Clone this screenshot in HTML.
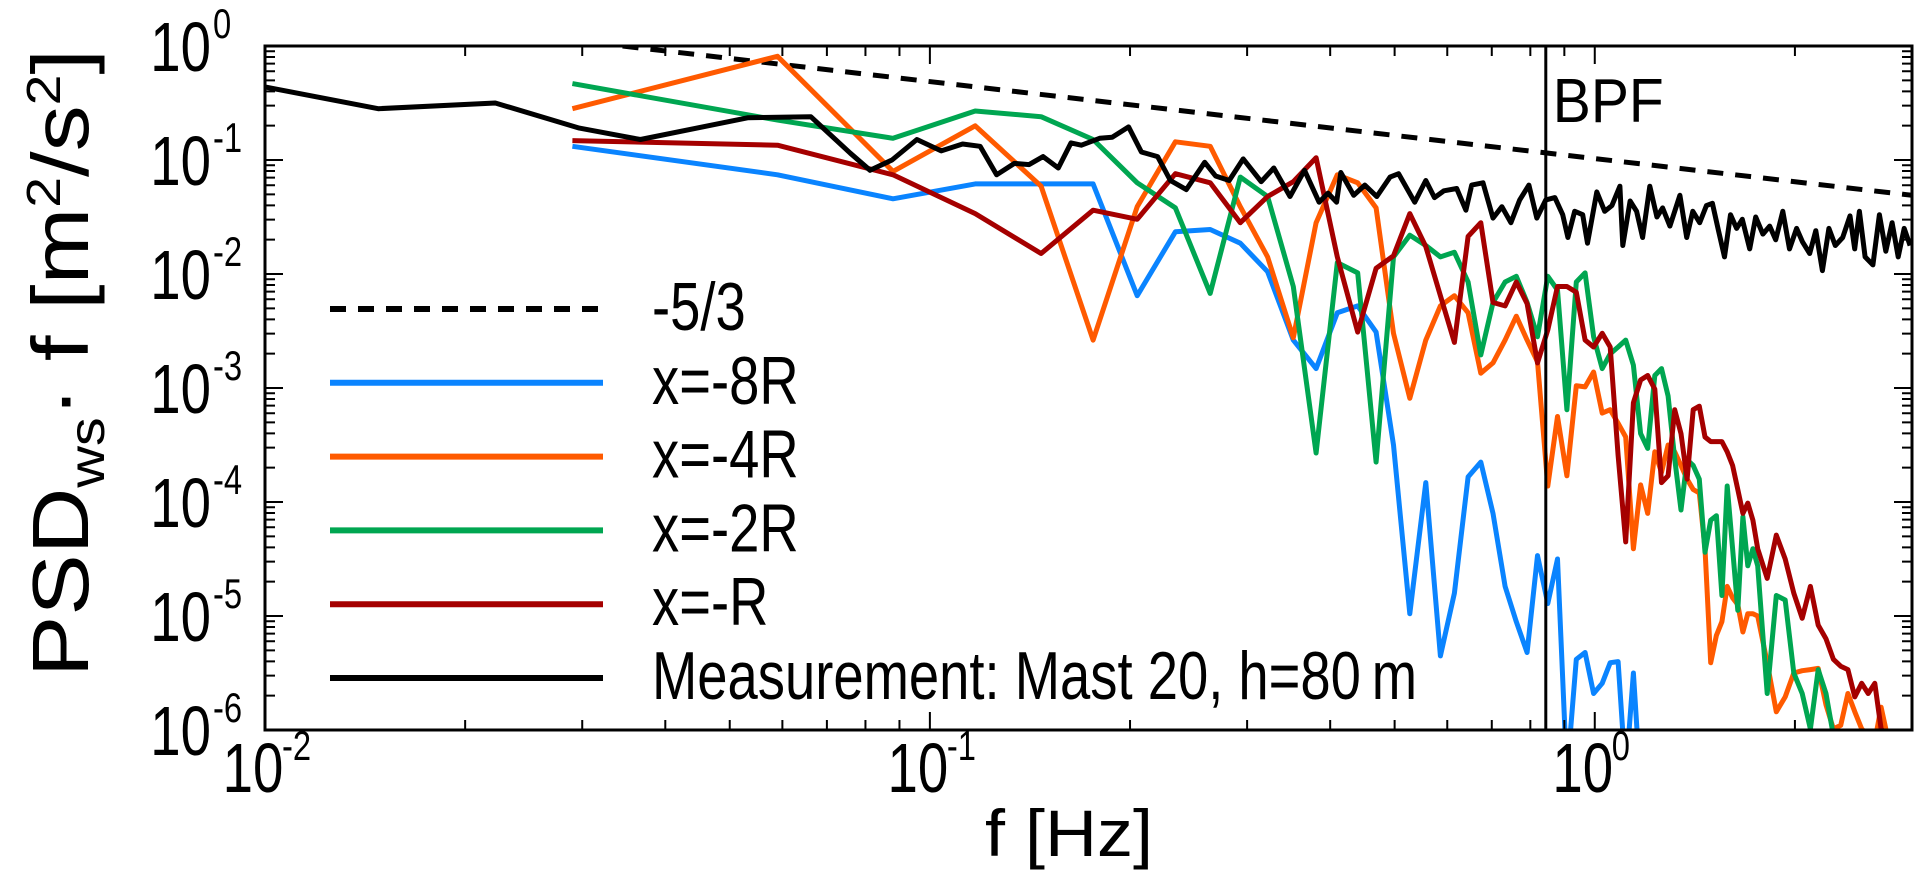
<!DOCTYPE html>
<html><head><meta charset="utf-8"><style>
html,body{margin:0;padding:0;background:#fff}
svg{display:block}
text{font-family:"Liberation Sans",Arial,sans-serif;fill:#000}
</style></head><body>
<svg id="chart" width="1931" height="875" viewBox="0 0 1931 875" xmlns="http://www.w3.org/2000/svg">
<defs><clipPath id="plotclip"><rect x="265" y="46" width="1647" height="684"/></clipPath></defs>
<g id="plot" clip-path="url(#plotclip)"></g>
<g id="axes"></g>
<g id="legend"></g>
<text x="1069" y="856" font-size="66" text-anchor="middle" textLength="168" lengthAdjust="spacingAndGlyphs">f [Hz]</text>
<text transform="translate(88,363) rotate(-90)" font-size="80" text-anchor="middle" textLength="628" lengthAdjust="spacingAndGlyphs">PSD<tspan font-size="50" dy="16">ws</tspan><tspan dy="-16">·</tspan> f  [m<tspan font-size="48" dy="-28">2</tspan><tspan dy="28">/s</tspan><tspan font-size="48" dy="-28">2</tspan><tspan dy="28">]</tspan></text>
</svg>
<script>
// ---- data ----
const simFreq = [0.029,0.059,0.088,0.117,0.147,0.176,0.205,0.234,0.264,0.293,0.322,0.352,0.381,0.410,0.440,0.469,0.498,0.527,0.557,0.586,0.615,0.645,0.674,0.703,0.733,0.762,0.791,0.820,0.850,0.879,0.908,0.938,0.967,0.996,1.026,1.055,1.084,1.113,1.143,1.172,1.201,1.231,1.260,1.289,1.319,1.348,1.377,1.406,1.436,1.465,1.494,1.524,1.553,1.582,1.612,1.641,1.670,1.699,1.729,1.758,1.817,1.875,1.934,1.992,2.051,2.110,2.168,2.227,2.285,2.344,2.403,2.461,2.520,2.578,2.637,2.696,2.754,2.813,2.871,2.930,2.989];
// log10 of PSD*f
const psdLog8R = [-0.88,-1.13,-1.34,-1.21,-1.21,-1.21,-2.19,-1.63,-1.61,-1.73,-1.98,-2.58,-2.83,-2.34,-2.28,-2.51,-3.50,-4.98,-3.83,-5.35,-4.80,-3.78,-3.65,-4.10,-4.74,-5.05,-5.32,-4.47,-4.89,-4.50,-6.4,-5.38,-5.32,-5.68,-5.59,-5.41,-5.40,-6.4,-5.50,-6.5];
const psdLog4R = [-0.55,-0.09,-1.10,-0.70,-1.23,-2.58,-1.41,-0.84,-0.88,-1.41,-1.85,-2.56,-1.55,-1.13,-1.20,-1.42,-2.52,-3.09,-2.58,-2.28,-2.19,-2.34,-2.87,-2.78,-2.58,-2.37,-2.58,-2.77,-3.86,-3.25,-3.77,-2.98,-2.99,-2.86,-3.22,-3.19,-3.31,-3.43,-4.41,-3.85,-4.10,-3.56,-3.74,-3.50,-3.56,-3.68,-3.80,-3.89,-3.92,-4.41,-5.41,-5.17,-5.05,-4.74,-4.84,-4.90,-5.14,-4.98,-4.98,-5.00,-5.41,-5.84,-5.71,-5.50,-5.48,-5.47,-5.46,-5.78,-5.99,-5.96,-5.68,-5.84,-5.99,-6.05,-6.1,-5.80,-6.05,-6.2,-6.3,-6.3,-6.3];
const psdLog2R = [-0.33,-0.65,-0.81,-0.57,-0.62,-0.82,-1.20,-1.42,-2.17,-1.15,-1.32,-2.11,-3.57,-1.90,-1.99,-3.65,-1.85,-1.66,-1.75,-1.85,-1.81,-2.07,-2.71,-2.25,-2.07,-2.02,-2.25,-2.55,-2.02,-2.14,-3.19,-2.07,-1.99,-2.55,-2.83,-2.70,-2.64,-2.58,-2.80,-3.40,-3.53,-2.89,-2.83,-3.07,-3.62,-4.07,-3.63,-3.68,-3.80,-4.44,-4.16,-4.12,-4.82,-3.86,-4.41,-4.95,-4.13,-4.56,-4.41,-4.56,-5.68,-4.82,-4.86,-5.50,-5.68,-5.99,-5.47,-5.68,-6.05,-6.3,-6.2,-6.3,-6.3,-6.4,-6.4,-6.4,-6.4,-6.4,-6.4,-6.4,-6.4];
const psdLog1R = [-0.83,-0.87,-1.13,-1.47,-1.82,-1.44,-1.52,-1.12,-1.20,-1.55,-1.32,-1.19,-0.98,-1.85,-2.51,-1.95,-1.84,-1.47,-1.76,-2.19,-2.60,-1.67,-1.55,-2.25,-2.28,-2.07,-2.26,-2.78,-2.49,-2.11,-2.11,-2.16,-2.58,-2.64,-2.52,-2.64,-3.59,-4.35,-3.13,-2.93,-2.89,-3.01,-3.83,-3.77,-3.19,-3.40,-3.80,-3.19,-3.16,-3.43,-3.47,-3.47,-3.47,-3.56,-3.68,-3.89,-4.10,-4.01,-4.16,-4.41,-4.67,-4.29,-4.50,-4.80,-5.02,-4.74,-5.08,-5.20,-5.38,-5.44,-5.47,-5.71,-5.59,-5.68,-5.59,-5.99,-6.05,-6.2,-6.3,-6.3,-6.3];
const measFreq = [0.0100,0.0148,0.0222,0.0297,0.0367,0.0532,0.0662,0.0759,0.0813,0.0877,0.0956,0.104,0.112,0.119,0.126,0.134,0.141,0.148,0.156,0.163,0.169,0.180,0.188,0.199,0.208,0.220,0.230,0.243,0.259,0.269,0.282,0.296,0.315,0.329,0.348,0.366,0.385,0.397,0.409,0.415,0.434,0.451,0.470,0.492,0.507,0.536,0.557,0.574,0.593,0.620,0.640,0.653,0.679,0.703,0.725,0.748,0.771,0.796,0.818,0.844,0.871,0.895,0.911,0.933,0.959,0.975,1.007,1.035,1.061,1.091,1.102,1.13,1.156,1.180,1.21,1.24,1.265,1.297,1.343,1.375,1.404,1.438,1.472,1.503,1.535,1.567,1.600,1.634,1.667,1.710,1.746,1.790,1.833,1.871,1.918,1.963,2.012,2.054,2.105,2.15,2.20,2.25,2.30,2.36,2.42,2.46,2.50,2.55,2.62,2.68,2.74,2.80,2.86,2.92,2.98];
const measLog = [-0.36,-0.55,-0.50,-0.72,-0.82,-0.63,-0.62,-0.94,-1.09,-1.00,-0.82,-0.92,-0.86,-0.88,-1.13,-1.03,-1.04,-0.97,-1.07,-0.85,-0.87,-0.81,-0.80,-0.71,-0.93,-0.97,-1.18,-1.26,-1.02,-1.14,-1.18,-0.99,-1.19,-1.07,-1.32,-1.09,-1.37,-1.29,-1.37,-1.11,-1.31,-1.22,-1.32,-1.15,-1.12,-1.37,-1.18,-1.33,-1.27,-1.25,-1.44,-1.22,-1.20,-1.51,-1.41,-1.55,-1.35,-1.22,-1.51,-1.35,-1.33,-1.48,-1.68,-1.45,-1.48,-1.73,-1.28,-1.45,-1.40,-1.23,-1.75,-1.36,-1.45,-1.68,-1.23,-1.50,-1.42,-1.58,-1.31,-1.68,-1.45,-1.55,-1.40,-1.38,-1.62,-1.85,-1.48,-1.60,-1.52,-1.78,-1.50,-1.65,-1.58,-1.70,-1.45,-1.78,-1.60,-1.72,-1.82,-1.62,-1.97,-1.60,-1.75,-1.68,-1.49,-1.78,-1.45,-1.85,-1.92,-1.48,-1.80,-1.55,-1.85,-1.60,-1.75];
const slopeFreq = [0.0345, 3.0];
const slopeLog = [0, -1.31];
const bpfFreq = [0.844];
const xTickExp = [-2, -1, 0];
const yTickExp = [0, -1, -2, -3, -4, -5, -6];

// ---- axes functions ----
const X0=265, X1=1912, Y0=46, Y1=730;
const LX0=-2, LX1=Math.log10(3.0), LY0=0, LY1=-6;
function xs(f){return X0+(Math.log10(f)-LX0)/(LX1-LX0)*(X1-X0);}
function ys(l){return Y0+(l-LY0)/(LY1-LY0)*(Y1-Y0);}
const NS="http://www.w3.org/2000/svg";
function mk(tag,attrs,parent){const e=document.createElementNS(NS,tag);for(const k in attrs)e.setAttribute(k,attrs[k]);parent.appendChild(e);return e;}
const plot=document.getElementById('plot'), axes=document.getElementById('axes'), legend=document.getElementById('legend');

function series(freqs, logs, color, name, dash){
  let d='';
  for(let i=0;i<logs.length;i++){d+=(i?'L':'M')+xs(freqs[i]).toFixed(1)+','+ys(logs[i]).toFixed(1);}
  const p=mk('path',{d:d,fill:'none',stroke:color,'stroke-width':5,'stroke-linejoin':'round'},plot);
  if(dash)p.setAttribute('stroke-dasharray',dash);
  
  
}
series(slopeFreq, slopeLog, '#000', 'slope-minus-5-3-line', '16,12');
series(simFreq, psdLog8R, '#0a84ff', 'series-x-minus-8r');
series(simFreq, psdLog4R, '#ff5a00', 'series-x-minus-4r');
series(simFreq, psdLog2R, '#00a651', 'series-x-minus-2r');
series(simFreq, psdLog1R, '#a50000', 'series-x-minus-r');
series(measFreq, measLog, '#000', 'series-measurement');

// scaled text helper (condensed look)
function stext(parent, x, y, size, sx, str, anchor){
  const g=mk('g',{transform:`translate(${x},${y}) scale(${sx},1)`},parent);
  const t=mk('text',{x:0,y:0,'font-size':size},g);
  if(anchor)t.setAttribute('text-anchor',anchor);
  t.textContent=str;
  return g;
}

// BPF line
const bx=xs(bpfFreq[0]);
const bl=mk('line',{x1:bx,x2:bx,y1:Y0,y2:Y1,stroke:'#000','stroke-width':3},axes);


const bt=stext(axes, bx+7, 122, 62, 0.92, 'BPF');



// frame
const fr=mk('rect',{x:X0,y:Y0,width:X1-X0,height:Y1-Y0,fill:'none',stroke:'#000','stroke-width':3},axes);



// ticks
let td='';
for(let e=-2;e<=0;e++){for(let m=1;m<=9;m++){const f=m*Math.pow(10,e);if(f>3.0001)continue;const x=xs(f);const L=m===1?18:10;td+=`M${x},${Y1}v${-L}M${x},${Y0}v${L}`;}}
for(let e=-6;e<0;e++){for(let m=1;m<=9;m++){const l=e+Math.log10(m);const y=ys(l);const L=m===1?18:10;td+=`M${X0},${y}h${L}M${X1},${y}h${-L}`;}}
const tk=mk('path',{d:td,stroke:'#000','stroke-width':2,fill:'none'},axes);



xTickExp.forEach(e=>{
  const x=xs(Math.pow(10,e));
  const t=stext(axes, x-12, 792, 70, 0.78, '10', 'middle');
  
  
  const s=stext(axes, x+17, 760, 42, 0.78, String(e));
  
  
});
yTickExp.forEach(e=>{
  const y=ys(e);
  const t=stext(axes, 211, y+25, 70, 0.78, '10', 'end');
  
  
  const s=stext(axes, 213, y-8, 42, 0.78, String(e));
  
  
});

// legend
const legItems=[['-5/3','#000','16,12','legend-entry-slope'],['x=-8R','#0a84ff',null,'legend-entry-8r'],['x=-4R','#ff5a00',null,'legend-entry-4r'],['x=-2R','#00a651',null,'legend-entry-2r'],['x=-R','#a50000',null,'legend-entry-r'],['Measurement: Mast 20, h=80\u2009m','#000',null,'legend-entry-measurement']];
legItems.forEach((it,i)=>{
  const y=309+i*73.8;
  const g=mk('g',{},legend);
  
  
  const ln=mk('line',{x1:330,x2:603,y1:y,y2:y,stroke:it[1],'stroke-width':6},g);
  if(it[2])ln.setAttribute('stroke-dasharray',it[2]);
  stext(g, 652, y+21, 68, 0.8, it[0]);
});
</script>
</body></html>
